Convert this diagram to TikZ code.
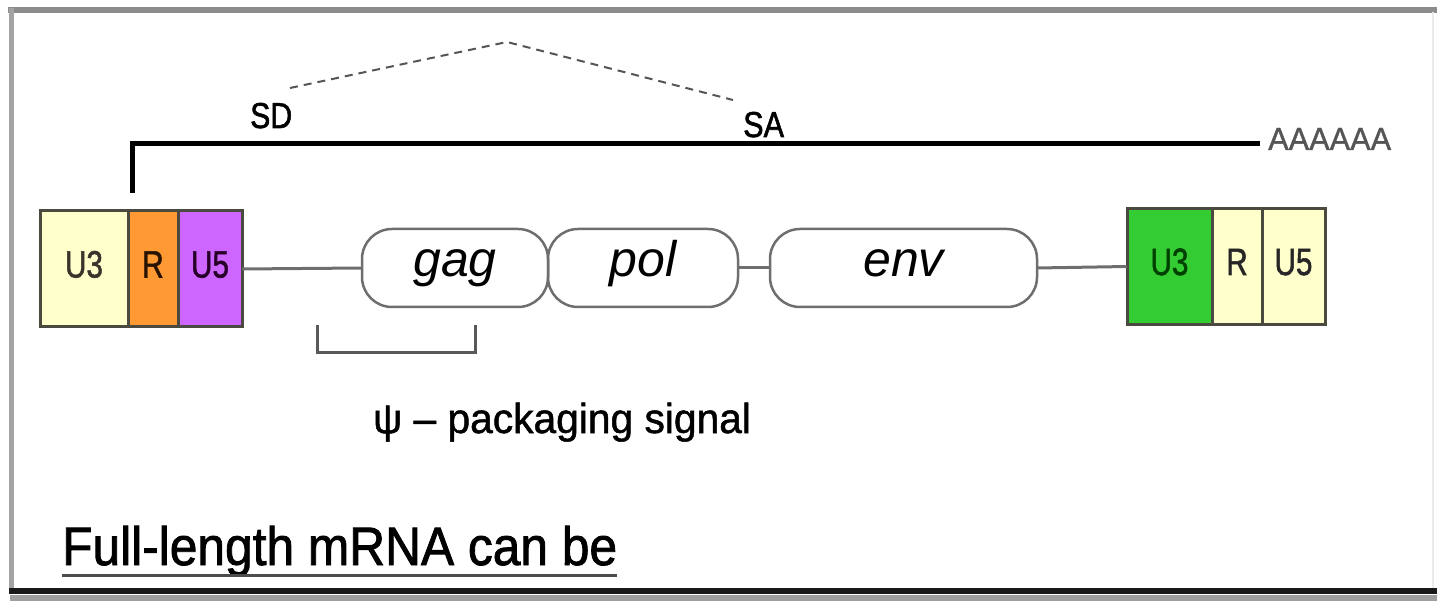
\documentclass[tikz,border=0pt]{standalone}
\usepackage{fontspec}
\setmainfont{Liberation Sans}
\newfontfamily\heavysans{Liberation Sans}[FakeBold=1.6]
\newfontfamily\midsans{Liberation Sans}[FakeBold=1.2]
\usepackage{graphicx}
\definecolor{ltryellow}{HTML}{FFFFCC}
\definecolor{rorange}{HTML}{FF9933}
\definecolor{u5purple}{HTML}{CC66FF}
\definecolor{u3green}{HTML}{33CC33}
\definecolor{boxline}{HTML}{4A4A40}
\definecolor{geneline}{HTML}{6E6E6E}
\definecolor{framegray}{HTML}{8C8C8C}
\definecolor{polyagray}{HTML}{555555}
\newcommand{\narrowtext}[2][0.78]{\scalebox{#1}[1]{#2}}
\begin{document}
\begin{tikzpicture}[x=1pt,y=-1pt,
  seg/.style={draw=boxline, line width=3pt, inner sep=0pt, outer sep=0pt,
    minimum height=116pt, text height=27pt, text depth=10pt,
    font=\fontsize{38}{40}\heavysans},
  gene/.style={draw=geneline, line width=2.5pt, rounded corners=30pt,
    minimum height=78pt, inner sep=0pt, outer sep=0pt,
    text height=30pt, text depth=12pt,
    font=\fontsize{50}{54}\selectfont\itshape},
  link/.style={draw=geneline, line width=3pt},
  mainline/.style={line width=5pt, line join=miter},
  splice/.style={draw=polyagray, line width=2pt, dash pattern=on 8pt off 6pt},
  lbl/.style={inner sep=0pt, anchor=base west, font=\fontsize{36}{40}\heavysans}
]
\useasboundingbox (0,0) rectangle (1437,601);

% panel frame
\draw[framegray, line width=6pt] (8,10) -- (1437,10);
\draw[framegray!80, line width=5pt] (11,8) -- (11,592);
\draw[black!8, line width=1.5pt] (1433,12) -- (1433,592);
\fill[black!38] (10,595) rectangle (1437,601);
\draw[black!90, line width=6pt] (9,591) -- (1437,591);

% 5' LTR
\node[seg, fill=ltryellow, minimum width=88pt, text=black!80!olive] (lU3) at (84,269) {\narrowtext{U3}};
\node[seg, fill=rorange, minimum width=50pt, text=black!85!orange] (lR) at (153,269) {\narrowtext{R}};
\node[seg, fill=u5purple, minimum width=64pt, text=black!70!violet] (lU5) at (210,269) {\narrowtext{U5}};

% 3' LTR
\node[seg, fill=u3green, minimum width=85pt, text=black!75!green] (rU3) at (1169.5,266.5) {\narrowtext{U3}};
\node[seg, fill=ltryellow, minimum width=50pt, text=black!85] (rR) at (1237,266.5) {\narrowtext{R}};
\node[seg, fill=ltryellow, minimum width=63pt, text=black!85] (rU5) at (1293.5,266.5) {\narrowtext{U5}};

% coding regions
\node[gene, minimum width=186pt] (gag) at (455,268) {gag};
\node[gene, minimum width=190pt] (pol) at (643,268) {pol};
\node[gene, minimum width=267pt] (env) at (903.5,268) {env};

% backbone between the pieces
\draw[link] (lU5.east) -- (gag.west);
\draw[link] (pol.east) -- (env.west);
\draw[link] (env.east) -- (rU3.west);

% packaging signal bracket
\coordinate (psiL) at (317,325);
\coordinate (psiR) at (475,325);
\draw[draw=black!65, line width=3pt] (psiL) -- ++(0,28) -| (psiR);
\node[lbl, font=\fontsize{42}{46}\midsans] (psi) at (373,433) {\narrowtext[0.97]{ψ – packaging signal}};

% transcript with splice sites
\coordinate (capstart) at (132,193);
\coordinate (tailend) at (1260,144);
\draw[mainline] (capstart) |- (tailend);
\node[lbl] (sd) at (250,128) {\narrowtext[0.84]{SD}};
\node[lbl] (sa) at (743,137) {\narrowtext[0.85]{SA}};
\node[lbl, font=\fontsize{32}{36}\midsans, text=polyagray] (polyA) at (1268,150) {\narrowtext[0.96]{AAAAAA}};
\coordinate (sdpt) at (290,88);
\coordinate (peak) at (507,42);
\coordinate (sapt) at (733,100);
\draw[splice] (sdpt) -- (peak) -- (sapt);

% caption
\node[lbl, font=\fontsize{54}{58}\heavysans] (title) at (62,565) {\narrowtext[0.92]{Full-length mRNA can be}};
\draw[black!70, line width=3pt] ([yshift=-10pt]title.base west) -- ([yshift=-10pt]title.base east);
\end{tikzpicture}
\end{document}
